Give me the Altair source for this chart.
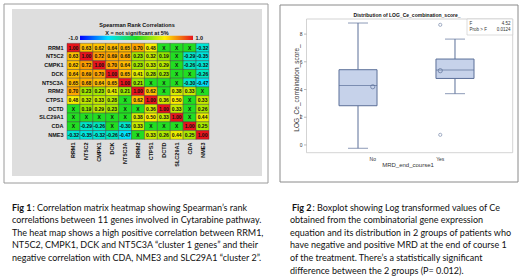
import altair as alt
import pandas as pd

# ---------------- data ----------------
genes = ["RRM1", "NT5C2", "CMPK1", "DCK", "NT5C3A", "RRM2", "CTPS1", "DCTD", "SLC29A1", "CDA", "NME3"]
X = None  # not significant at 5%
corr_rows = [
    [1.00, 0.63, 0.62, 0.64, 0.65, 0.70, 0.48, X, X, X, -0.32],
    [0.63, 1.00, 0.72, 0.69, 0.68, 0.23, 0.32, 0.19, X, -0.29, -0.35],
    [0.62, 0.72, 1.00, 0.70, 0.64, 0.23, 0.33, 0.29, X, -0.26, -0.32],
    [0.64, 0.69, 0.70, 1.00, 0.65, 0.41, 0.28, 0.23, X, X, -0.26],
    [0.65, 0.68, 0.64, 0.65, 1.00, 0.21, X, X, X, -0.30, -0.47],
    [0.70, 0.23, 0.23, 0.41, 0.21, 1.00, 0.62, X, 0.38, 0.33, X],
    [0.48, 0.32, 0.33, 0.28, X, 0.62, 1.00, 0.36, 0.50, X, 0.33],
    [X, 0.19, 0.29, 0.23, X, X, 0.36, 1.00, 0.33, X, 0.26],
    [X, X, X, X, X, 0.38, 0.50, 0.33, 1.00, X, 0.44],
    [X, -0.29, -0.26, X, -0.30, 0.33, X, X, X, 1.00, 0.25],
    [-0.32, -0.35, -0.32, -0.26, -0.47, X, 0.33, 0.26, 0.44, 0.25, 1.00],
]

groups = ["No", "Yes"]
whisker_lo = [-0.24, 3.70]
q1 = [2.83, 4.80]
median = [4.29, 5.40]
mean = [4.20, 5.36]
q3 = [5.43, 6.20]
whisker_hi = [8.80, 7.64]
outlier_group = ["Yes", "Yes"]
outlier_value = [8.67, 0.73]
y_ticks = [0, 2, 4, 6, 8]
f_stats = [("F", "4.52"), ("Prob > F", "0.0124")]

caption1_bold = "Fig 1"
caption1 = [
    ": Correlation matrix heatmap showing Spearman\u2019s rank",
    "correlations between 11 genes involved in Cytarabine pathway.",
    "The heat map shows a high positive correlation between RRM1,",
    "NT5C2, CMPK1, DCK and NT5C3A \u201ccluster 1 genes\u201d and their",
    "negative correlation with CDA, NME3 and SLC29A1 \u201ccluster 2\u201d.",
]
caption2_bold = "Fig 2"
caption2 = [
    ": Boxplot showing Log transformed values of Ce",
    "obtained from the combinatorial gene expression",
    "equation and its distribution in 2 groups of patients who",
    "have negative and positive MRD at the end of course 1",
    "of the treatment. There\u2019s a statistically significant",
    "difference between the 2 groups (P= 0.012).",
]

# ---------------- tables ----------------
cells = []
for i, r in enumerate(genes):
    for j, c in enumerate(genes):
        v = corr_rows[i][j]
        cells.append({"row": r, "col": c,
                      "colorv": 0.0 if v is None else v,
                      "label": "X" if v is None else f"{v:.2f}"})
cells = pd.DataFrame(cells)
gene_df = pd.DataFrame({"gene": genes})
box_df = pd.DataFrame({"group": groups, "lo": whisker_lo, "q1": q1, "med": median,
                       "mean": mean, "q3": q3, "hi": whisker_hi})
out_df = pd.DataFrame({"group": outlier_group, "v": outlier_value})
tick_df = pd.DataFrame({"v": y_ticks, "t": [str(t) for t in y_ticks]})
one = pd.DataFrame({"k": [0]})

SANS = "Liberation Sans"
CAP = "Lato"
CAPSIZE = 9

def label(text, x, y, size=6, weight="normal", align="left", angle=0, color="#111", font=SANS):
    kw = dict(text=text, fontSize=size, fontWeight=weight, align=align, baseline="middle",
              color=color, font=font)
    if angle:
        kw["angle"] = angle
    return alt.Chart(one).mark_text(**kw).encode(x=alt.value(x), y=alt.value(y))

def box(x1, x2, y1, y2, fill, stroke, sw=1):
    return alt.Chart(one).mark_rect(fill=fill, stroke=stroke, strokeWidth=sw).encode(
        x=alt.value(x1), x2=alt.value(x2), y=alt.value(y1), y2=alt.value(y2))

layers = []

# ---------------- left panel: heatmap ----------------
layers.append(box(4, 268, 4, 183, "white", "#9a9a9a", 1))
layers.append(box(12, 262, 9, 176, "#dedede", "#dedede", 0))

hx = alt.Scale(domain=genes, range=[67, 209], paddingInner=0, paddingOuter=0)
hy = alt.Scale(domain=genes, range=[43.3, 139.3], paddingInner=0, paddingOuter=0)
cscale = alt.Scale(domain=[-1, -0.5, 0, 0.5, 1],
                   range=["#0000ff", "#00e0ff", "#22dd22", "#ffee00", "#e8141c"])

layers.append(alt.Chart(cells).mark_rect(stroke="#3c3c3c", strokeWidth=0.4).encode(
    x=alt.X("col:N", scale=hx, axis=None),
    y=alt.Y("row:N", scale=hy, axis=None),
    color=alt.Color("colorv:Q", scale=cscale, legend=None)))
layers.append(alt.Chart(cells).mark_text(fontSize=5, fontWeight="bold", font=SANS, color="#111").encode(
    x=alt.X("col:N", scale=hx, axis=None),
    y=alt.Y("row:N", scale=hy, axis=None),
    text="label:N"))
layers.append(alt.Chart(gene_df).mark_text(fontSize=5.5, fontWeight="bold", font=SANS,
                                            align="right", baseline="middle", color="#111").encode(
    y=alt.Y("gene:N", scale=hy, axis=None), x=alt.value(63.5), text="gene:N"))
layers.append(alt.Chart(gene_df).mark_text(fontSize=5.5, fontWeight="bold", font=SANS, angle=270,
                                            align="right", baseline="middle", color="#111").encode(
    x=alt.X("gene:N", scale=hx, axis=None), y=alt.value(142.5), text="gene:N"))

layers.append(label("Spearman Rank Correlations", 137, 25, size=5.5, weight="bold", align="center"))
layers.append(label("X = not significant at 5%", 137, 32.5, size=5.5, weight="bold", align="center"))
grad = alt.LinearGradient(gradient="linear", x1=0, x2=1, y1=0, y2=0, stops=[
    alt.GradientStop(color="#0000ff", offset=0),
    alt.GradientStop(color="#00e0ff", offset=0.25),
    alt.GradientStop(color="#22dd22", offset=0.5),
    alt.GradientStop(color="#ffee00", offset=0.75),
    alt.GradientStop(color="#e8141c", offset=1)])
layers.append(alt.Chart(one).mark_rect(fill=grad).encode(
    x=alt.value(80), x2=alt.value(193), y=alt.value(35.7), y2=alt.value(40)))
layers.append(label("-1.0", 78, 38, size=5.5, weight="bold", align="right"))
layers.append(label("1.0", 195.5, 38, size=5.5, weight="bold", align="left"))

# ---------------- right panel: boxplot ----------------
layers.append(box(280, 518, 5, 182, "white", "#8a8a8a", 1))
layers.append(box(306.5, 512.7, 19, 152.7, "white", "#c8c8c8", 0.8))

bx = alt.Scale(domain=groups, range=[339, 474], paddingInner=0.608, paddingOuter=0)
by = alt.Scale(domain=[-0.56, 9.09], range=[152.7, 19], nice=False, zero=False)
BFILL, BLINE = "#c6d2ea", "#5b6f98"
xg = alt.X("group:N", scale=bx, axis=None)

layers.append(alt.Chart(box_df).mark_rule(color=BLINE, strokeWidth=1).encode(
    x=xg, y=alt.Y("lo:Q", scale=by, axis=None), y2="q1:Q"))
layers.append(alt.Chart(box_df).mark_rule(color=BLINE, strokeWidth=1).encode(
    x=xg, y=alt.Y("q3:Q", scale=by, axis=None), y2="hi:Q"))
layers.append(alt.Chart(box_df).mark_bar(fill=BFILL, stroke=BLINE, strokeWidth=1).encode(
    x=xg, y=alt.Y("q1:Q", scale=by, axis=None), y2="q3:Q"))
for fld, sz in (("lo", 20), ("hi", 20), ("med", 38)):
    layers.append(alt.Chart(box_df).mark_tick(orient="horizontal", size=sz, thickness=1, color=BLINE).encode(
        x=xg, y=alt.Y(f"{fld}:Q", scale=by, axis=None)))
layers.append(alt.Chart(box_df).mark_point(shape="circle", filled=False, size=18, color=BLINE, strokeWidth=1).encode(
    x=xg, y=alt.Y("mean:Q", scale=by, axis=None)))
layers.append(alt.Chart(out_df).mark_point(shape="circle", filled=False, size=10, color=BLINE, strokeWidth=0.8).encode(
    x=xg, y=alt.Y("v:Q", scale=by, axis=None)))

# axes drawn through the same scales
layers.append(alt.Chart(tick_df).mark_text(fontSize=5, font=SANS, align="right", baseline="middle", color="#333").encode(
    y=alt.Y("v:Q", scale=by, axis=None), x=alt.value(302.5), text="t:N"))
layers.append(alt.Chart(tick_df).mark_rule(color="#888", strokeWidth=0.6).encode(
    y=alt.Y("v:Q", scale=by, axis=None), x=alt.value(304), x2=alt.value(306.5)))
layers.append(alt.Chart(box_df).mark_text(fontSize=5, font=SANS, baseline="middle", color="#333").encode(
    x=xg, y=alt.value(159), text="group:N"))
layers.append(label("LOG_Ce_combination_score_", 296.5, 88, size=6.5, angle=270, align="center", color="#333"))
layers.append(label("MRD_end_course1", 408, 165, size=6, align="center", color="#333"))
layers.append(label("Distribution of LOG_Ce_combination_score_", 407, 14.5, size=5, weight="bold", align="center"))

# F statistics inset
layers.append(box(467, 512.7, 19, 35, "white", "#c8c8c8", 0.6))
for k, (name, val) in enumerate(f_stats):
    layers.append(label(name, 469.5, 23.5 + 6 * k, size=4.5, color="#333"))
    layers.append(label(val, 510.5, 23.5 + 6 * k, size=4.5, align="right", color="#333"))

# ---------------- captions ----------------
layers.append(label(caption1_bold, 12, 207.5, size=CAPSIZE, weight="bold", font=CAP))
layers.append(label(caption1[0], 32.5, 207.5, size=CAPSIZE, font=CAP))
for k, line in enumerate(caption1[1:], start=1):
    layers.append(label(line, 12, 207.5 + 12.6 * k, size=CAPSIZE, font=CAP))

layers.append(label(caption2_bold, 292, 207.5, size=CAPSIZE, weight="bold", font=CAP))
layers.append(label(caption2[0], 312.5, 207.5, size=CAPSIZE, font=CAP))
for k, line in enumerate(caption2[1:], start=1):
    layers.append(label(line, 290, 207.5 + 12.6 * k, size=CAPSIZE, font=CAP))

chart = alt.layer(*layers).resolve_scale(
    x="independent", y="independent", color="independent"
).properties(
    width=520, height=279, padding=0, autosize=alt.AutoSizeParams(type="none"),
    background="white"
).configure_view(stroke=None)

chart.save("out.html", embed_options={"renderer": "svg", "actions": False})
